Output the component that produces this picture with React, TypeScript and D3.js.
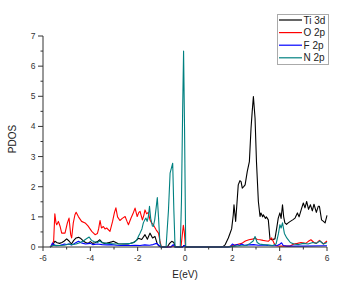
import React from "react";
import * as d3 from "d3";

const xTicks = [-6, -4, -2, 0, 2, 4, 6];
const yTicks = [0, 1, 2, 3, 4, 5, 6, 7];

const tiE = [-5.7,-5.6,-5.5,-5.4,-5.3,-5.2,-5.1,-5.0,-4.9,-4.8,-4.7,-4.6,-4.5,-4.4,-4.3,-4.2,-4.1,-4.0,-3.9,-3.8,-3.7,-3.6,-3.5,-3.4,-3.3,-3.2,-3.1,-3.03,-2.9,-2.82,-2.6,-2.4,-2.18,-2.05,-1.97,-1.83,-1.69,-1.59,-1.48,-1.37,-1.27,-1.17,-1.1,-1.0,-0.75,-0.65,-0.56,-0.47,-0.42,-0.35,-0.1,-0.05,0,0.05,1.5,1.62,1.7,1.83,1.9,1.97,2.04,2.07,2.14,2.2,2.25,2.32,2.37,2.42,2.48,2.54,2.63,2.72,2.79,2.84,2.89,2.96,3.02,3.1,3.17,3.21,3.28,3.31,3.4,3.44,3.52,3.59,3.66,3.8,3.87,3.94,4.01,4.06,4.12,4.17,4.22,4.29,4.36,4.45,4.55,4.65,4.75,4.82,4.93,5.0,5.07,5.14,5.22,5.3,5.38,5.45,5.55,5.63,5.68,5.77,5.85,5.92,6.0];
const tiV = [0,0.05,0.19,0.14,0.12,0.15,0.2,0.27,0.2,0.1,0.22,0.3,0.32,0.28,0.2,0.15,0.12,0.18,0.12,0.14,0.18,0.24,0.15,0.12,0.13,0.15,0.17,0.19,0.14,0.11,0.1,0.1,0.15,0.22,0.29,0.25,0.41,0.26,0.46,0.3,0.35,0.1,0.03,0,0,0.12,0.19,0.15,0.02,0,0,0.05,0.04,0,0,0.02,0.08,0.3,0.45,0.6,1.07,1.4,0.85,1.5,2.06,2.2,2.17,1.95,2.0,2.06,2.5,2.83,3.94,4.5,4.99,4.27,2.83,1.51,1.01,1.13,1.0,1.07,0.95,1.0,0.9,0.27,0.24,0.27,0.6,0.96,1.13,0.95,1.4,1.0,0.8,0.75,0.8,0.85,0.9,0.96,1.13,1.0,1.29,1.46,1.3,1.51,1.25,1.4,1.2,1.42,1.15,1.35,1.35,0.9,0.85,0.8,1.05];

const oE = [-5.7,-5.62,-5.55,-5.5,-5.45,-5.42,-5.35,-5.28,-5.21,-5.07,-4.97,-4.9,-4.83,-4.79,-4.72,-4.65,-4.6,-4.5,-4.37,-4.22,-4.1,-3.94,-3.8,-3.7,-3.65,-3.59,-3.53,-3.45,-3.38,-3.31,-3.17,-3.06,-2.98,-2.92,-2.85,-2.75,-2.65,-2.53,-2.45,-2.39,-2.28,-2.2,-2.11,-2.02,-1.95,-1.9,-1.8,-1.74,-1.69,-1.62,-1.55,-1.48,-1.41,-1.34,-1.22,-1.12,-1.06,-1.0,-0.6,-0.5,-0.42,-0.17,-0.1,-0.07,-0.03,0.02,1.8,2.0,2.2,2.4,2.55,2.7,2.85,2.96,3.05,3.17,3.3,3.38,3.52,3.66,3.76,3.85,4.0,4.44,4.6,4.75,4.9,5.1,5.2,5.32,5.45,5.55,5.68,5.85,6.0];
const oV = [0,0.05,0.2,1.1,0.8,0.74,0.85,0.69,0.46,0.46,0.8,0.96,0.41,0.3,0.8,1.07,1.15,1.0,0.85,0.8,0.7,0.52,0.41,0.45,0.6,0.88,0.63,0.68,0.6,0.63,0.52,0.85,1.15,1.3,1.0,0.88,0.95,1.01,0.85,0.74,0.96,1.1,1.29,1.01,1.15,1.18,0.9,1.05,1.23,1.1,1.15,0.9,0.8,0.74,0.57,0.46,0.2,0,0,0.04,0,0,0.5,0.72,0.5,0,0,0.05,0.08,0.12,0.2,0.24,0.26,0.3,0.25,0.24,0.22,0.21,0.19,0.3,0.13,0.04,0.03,0.03,0.1,0.12,0.15,0.12,0.18,0.24,0.15,0.12,0.22,0.1,0.2];

const fE = [-5.7,-5.65,-5.6,-5.55,-5.45,-5.3,-5.2,-5.1,-5.0,-4.9,-4.8,-4.7,-4.6,-4.5,-4.4,-4.3,-4.2,-4.0,-3.9,-3.7,-3.5,-3.3,-3.1,-2.9,-2.7,-2.5,-2.3,-2.1,-1.9,-1.7,-1.5,-1.35,-1.2,-1.1,-1.0,-0.6,-0.5,-0.42,-0.1,-0.03,0.05,1.9,2.0,2.1,2.2,2.3,2.4,2.5,2.7,2.9,3.1,3.3,3.5,3.7,3.9,4.02,4.08,4.15,4.3,5.0,6.0];
const fV = [0,0.05,0.13,0.08,0.04,0.05,0.07,0.1,0.08,0.1,0.07,0.1,0.15,0.19,0.14,0.12,0.1,0.12,0.08,0.1,0.08,0.07,0.08,0.06,0.05,0.06,0.05,0.06,0.05,0.07,0.06,0.08,0.12,0.05,0,0,0.08,0,0,0.05,0,0,0.1,0.05,0.08,0.05,0.1,0.06,0.07,0.08,0.06,0.07,0.05,0.04,0.05,0.1,0.14,0.05,0.03,0.03,0.04];

const nE = [-5.7,-5.6,-5.5,-5.3,-5.1,-4.9,-4.8,-4.6,-4.45,-4.3,-4.15,-4.05,-3.95,-3.85,-3.7,-3.6,-3.5,-3.3,-3.1,-2.9,-2.7,-2.5,-2.3,-2.15,-2.05,-1.95,-1.9,-1.82,-1.76,-1.7,-1.65,-1.6,-1.55,-1.5,-1.45,-1.38,-1.34,-1.28,-1.22,-1.17,-1.12,-1.06,-1.0,-0.8,-0.7,-0.63,-0.52,-0.47,-0.42,-0.2,-0.15,-0.1,-0.06,-0.02,0.03,1.8,2.0,2.3,2.6,2.75,2.88,2.96,3.05,3.15,3.3,3.5,3.7,3.85,3.95,4.01,4.06,4.12,4.2,4.3,4.45,4.6,4.8,5.0,5.2,5.4,5.55,5.7,5.85,6.0];
const nV = [0,0.05,0.06,0.05,0.06,0.1,0.08,0.1,0.14,0.2,0.28,0.33,0.22,0.18,0.15,0.2,0.14,0.12,0.11,0.1,0.1,0.11,0.12,0.15,0.22,0.38,0.46,0.6,0.8,0.9,0.96,0.85,1.0,1.35,0.95,0.7,0.68,0.9,1.3,1.64,1.0,0.13,0,0,1.2,2.45,2.78,1.2,0,0,1.5,4.5,6.5,4.0,0,0,0.02,0.04,0.05,0.12,0.2,0.35,0.15,0.1,0.08,0.07,0.05,0.1,0.45,0.74,0.63,0.8,0.45,0.3,0.15,0.1,0.08,0.12,0.1,0.15,0.12,0.2,0.1,0.15];

const seriesNames = ["Ti 3d", "O 2p", "F 2p", "N 2p"];
const seriesColors = ["#000000", "#ff0000", "#0000ff", "#008080"];
const seriesE = [tiE, oE, fE, nE];
const seriesV = [tiV, oV, fV, nV];

export default function App() {
  const W = 347, H = 283;
  const x = d3.scaleLinear().domain([-6, 6]).range([43, 327]);
  const y = d3.scaleLinear().domain([0, 7]).range([247, 36]);
  const line = d3.line<[number, number]>().x(d => x(d[0])).y(d => y(d[1]));
  const font = "'Liberation Sans', Arial, sans-serif";
  const axisColor = "#333";
  const minorX = d3.range(-6, 6.01, 1);
  const minorY = d3.range(0, 7.01, 0.5);
  return (
    <svg width={W} height={H} style={{ position: "absolute", left: 0, top: 0 }}>
      <rect width={W} height={H} fill="#fff" />
      {seriesNames.map((n, i) => (
        <path key={n} d={line(seriesE[i].map((e, j) => [e, seriesV[i][j]] as [number, number])) || ""}
          fill="none" stroke={seriesColors[i]} strokeWidth={1.1} strokeLinejoin="round" />
      ))}
      <line x1={43} x2={43} y1={y(7)} y2={y(0)} stroke={axisColor} strokeWidth={1} />
      <line x1={43} x2={327} y1={y(0)} y2={y(0)} stroke={axisColor} strokeWidth={1} />
      {minorY.map(v => (
        <line key={"my" + v} x1={Number.isInteger(v) ? 38 : 40.5} x2={43} y1={y(v)} y2={y(v)} stroke={axisColor} strokeWidth={1} />
      ))}
      {minorX.map(v => (
        <line key={"mx" + v} x1={x(v)} x2={x(v)} y1={y(0)} y2={y(0) + (v % 2 === 0 ? 4 : 2.5)} stroke={axisColor} strokeWidth={1} />
      ))}
      {yTicks.map(v => (
        <text key={"yt" + v} x={35.5} y={y(v) + 3} textAnchor="end" fontFamily={font} fontSize={8.5} fill="#333">{v}</text>
      ))}
      {xTicks.map(v => (
        <text key={"xt" + v} x={x(v)} y={261} textAnchor="middle" fontFamily={font} fontSize={8.5} fill="#333">{v}</text>
      ))}
      <text x={185} y={278} textAnchor="middle" fontFamily={font} fontSize={10} fill="#222">E(eV)</text>
      <text transform="translate(15.5,139) rotate(-90)" textAnchor="middle" fontFamily={font} fontSize={10} fill="#222">PDOS</text>
      <rect x={277.5} y={14.5} width={51} height={50} fill="#fff" stroke="#aaa" strokeWidth={1} />
      {seriesNames.map((n, i) => (
        <g key={"lg" + n}>
          <line x1={279} x2={302} y1={20 + i * 12.6} y2={20 + i * 12.6} stroke={seriesColors[i]} strokeWidth={1.2} />
          <text x={303.5} y={23.5 + i * 12.6} fontFamily={font} fontSize={10} fill="#222">{n}</text>
        </g>
      ))}
    </svg>
  );
}
